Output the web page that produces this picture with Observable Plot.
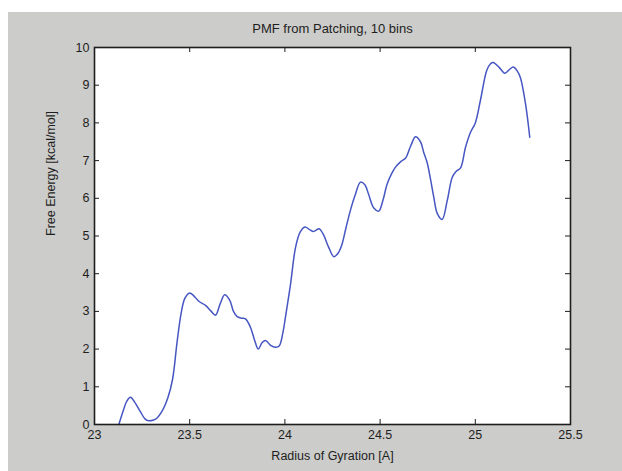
<!DOCTYPE html>
<html>
<head>
<meta charset="utf-8">
<script src="https://cdn.jsdelivr.net/npm/d3@7"></script>
<script src="https://cdn.jsdelivr.net/npm/@observablehq/plot@0.6"></script>
<style>
  html, body { margin: 0; padding: 0; background: #fff; }
  #wrap { position: relative; width: 622px; height: 471px; overflow: hidden; }
  #bg { position: absolute; left: 8px; top: 12px; right: 0; bottom: 0; background: #cccccA; }
  #chart { position: absolute; left: 0; top: 0; }
  #chart svg { background: transparent !important; }
</style>
</head>
<body>
<div id="wrap"><div id="bg"></div><div id="chart"></div></div>
<script>
const titleText = "PMF from Patching, 10 bins";
const xLabel = "Radius of Gyration [A]";
const yLabel = "Free Energy [kcal/mol]";
const xTicks = [23, 23.5, 24, 24.5, 25, 25.5];
const yTicks = [0, 1, 2, 3, 4, 5, 6, 7, 8, 9, 10];

const radius = [
  23.128, 23.15, 23.17, 23.189, 23.21, 23.24, 23.265, 23.285, 23.31, 23.33,
  23.36, 23.385, 23.41, 23.434, 23.455, 23.475, 23.50, 23.52, 23.548, 23.583,
  23.61, 23.635, 23.66, 23.684, 23.71, 23.73, 23.749, 23.775, 23.793, 23.819,
  23.84, 23.86, 23.88, 23.898, 23.925, 23.951, 23.97, 23.99, 24.003, 24.029,
  24.056, 24.08, 24.105, 24.13, 24.15, 24.18, 24.20, 24.23, 24.257, 24.28,
  24.30, 24.32, 24.344, 24.37, 24.397, 24.42, 24.44, 24.467, 24.493, 24.515,
  24.537, 24.56, 24.58, 24.61, 24.633, 24.66, 24.686, 24.712, 24.73, 24.747,
  24.765, 24.782, 24.80, 24.826, 24.853, 24.879, 24.90, 24.922, 24.949, 24.975,
  25.0, 25.027, 25.06, 25.08, 25.094, 25.124, 25.155, 25.18, 25.199, 25.22,
  25.237, 25.264, 25.286
];
const energy = [
  0.0, 0.35, 0.62, 0.72, 0.6, 0.35, 0.15, 0.1, 0.12, 0.18,
  0.4, 0.7, 1.2, 2.2, 2.95, 3.35, 3.49, 3.42, 3.27, 3.16,
  3.02, 2.9, 3.2, 3.44, 3.3, 3.0, 2.86, 2.82, 2.80, 2.58,
  2.25, 2.0, 2.17, 2.23, 2.1, 2.05, 2.08, 2.45, 2.85, 3.7,
  4.7, 5.1, 5.24, 5.17, 5.12, 5.19, 5.06, 4.7, 4.45, 4.55,
  4.78, 5.2, 5.68, 6.1, 6.43, 6.36, 6.1, 5.74, 5.66, 5.95,
  6.38, 6.65, 6.82, 6.98, 7.06, 7.38, 7.63, 7.5, 7.2, 6.95,
  6.5, 6.03, 5.6, 5.44, 5.95, 6.56, 6.72, 6.8, 7.36, 7.75,
  8.0, 8.6, 9.39, 9.57, 9.6, 9.48, 9.32, 9.42, 9.48, 9.38,
  9.2, 8.5, 7.62
];

const data = radius.map((r, i) => ({r, e: energy[i]}));

const W = 622, H = 471;
const mL = 94, mR = 52, mT = 47, mB = 47;
const plotW = W - mL - mR, plotH = H - mT - mB;
const tickLen = 5;
const ink = "#1e1e1e";
const font = "'Liberation Sans', Arial, Helvetica, sans-serif";

const chart = Plot.plot({
  width: W,
  height: H,
  marginLeft: mL,
  marginRight: mR,
  marginTop: mT,
  marginBottom: mB,
  style: {fontFamily: font, fontSize: "12.5px", color: ink, background: "transparent"},
  x: {domain: [23, 25.5]},
  y: {domain: [0, 10]},
  marks: [
    Plot.frame({fill: "white", stroke: null}),
    Plot.line(data, {x: "r", y: "e", curve: "catmull-rom", stroke: "#4656c2", strokeWidth: 1.5}),
    Plot.tickX(xTicks, {x: d => d, insetTop: plotH - tickLen, stroke: ink, strokeWidth: 1}),
    Plot.tickX(xTicks, {x: d => d, insetBottom: plotH - tickLen, stroke: ink, strokeWidth: 1}),
    Plot.tickY(yTicks, {y: d => d, insetRight: plotW - tickLen, stroke: ink, strokeWidth: 1}),
    Plot.tickY(yTicks, {y: d => d, insetLeft: plotW - tickLen, stroke: ink, strokeWidth: 1}),
    Plot.frame({stroke: ink, strokeWidth: 1.6}),
    Plot.axisX({ticks: xTicks, tickSize: 0, tickPadding: 6, fontSize: 12.5, label: null, tickFormat: d => String(d)}),
    Plot.axisY({ticks: yTicks, tickSize: 0, tickPadding: 5, fontSize: 12.5, label: null, tickFormat: d => String(d)}),
    Plot.text([xLabel], {frameAnchor: "bottom", lineAnchor: "middle", dy: 31, text: d => d, fontSize: 12.5, fill: ink}),
    Plot.text([yLabel], {frameAnchor: "left", dx: -44, rotate: -90, text: d => d, fontSize: 12.5, fill: ink}),
    Plot.text([titleText], {frameAnchor: "top", lineAnchor: "middle", dy: -19, text: d => d, fontSize: 13, fill: ink})
  ]
});
document.getElementById("chart").appendChild(chart);
</script>
</body>
</html>
